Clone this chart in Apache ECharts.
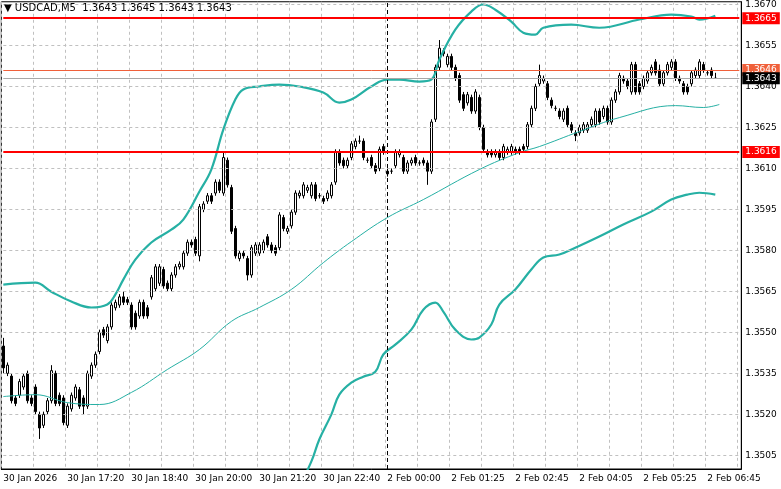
<!DOCTYPE html>
<html>
<head>
<meta charset="utf-8">
<script src="https://cdn.jsdelivr.net/npm/echarts@6/dist/echarts.min.js"></script>
<style>
  html, body { margin: 0; padding: 0; background: #fff; }
  #chart { width: 781px; height: 489px; }
</style>
</head>
<body>
<div id="chart"></div>
<script>
// USDCAD M5, 30 Jan 2026 16:00 -> 2 Feb 06:55
var symbol = 'USDCAD,M5';
var headerOHLC = ['1.3643', '1.3645', '1.3643', '1.3643'];

var opens = [
  1.3545,1.3535,1.3534,1.3526,1.3527,1.3530,1.3535,1.3526,1.3530,1.3520,
  1.3516,1.3521,1.3525,1.3535,1.3527,1.3526,1.3516,1.3522,1.3526,1.3529,
  1.3526,1.3523,1.3534,1.3538,1.3543,1.3551,1.3547,1.3552,1.3559,1.3560,
  1.3563,1.3562,1.3560,1.3557,1.3556,1.3561,1.3559,1.3563,1.3566,1.3568,
  1.3573,1.3568,1.3566,1.3571,1.3574,1.3574,1.3579,1.3583,1.3584,1.3578,
  1.3595,1.3598,1.3600,1.3601,1.3605,1.3601,1.3613,1.3603,1.3588,1.3577,
  1.3579,1.3577,1.3571,1.3579,1.3579,1.3580,1.3585,1.3582,1.3581,1.3581,
  1.3592,1.3587,1.3589,1.3594,1.3600,1.3600,1.3602,1.3600,1.3604,1.3600,
  1.3599,1.3599,1.3600,1.3605,1.3616,1.3613,1.3611,1.3614,1.3618,1.3620,
  1.3620,1.3613,1.3614,1.3611,1.3610,1.3618,1.3609,1.3609,1.3611,1.3615,
  1.3614,1.3609,1.3612,1.3614,1.3612,1.3613,1.3612,1.3609,1.3628,1.3647,
  1.3653,1.3648,1.3651,1.3647,1.3644,1.3637,1.3634,1.3636,1.3631,1.3636,
  1.3625,1.3616,1.3616,1.3615,1.3616,1.3614,1.3616,1.3616,1.3617,1.3617,
  1.3618,1.3618,1.3626,1.3632,1.3641,1.3642,1.3641,1.3635,1.3632,1.3631,
  1.3628,1.3632,1.3626,1.3623,1.3623,1.3624,1.3624,1.3626,1.3626,1.3631,
  1.3629,1.3632,1.3627,1.3635,1.3638,1.3643,1.3642,1.3638,1.3648,1.3641,
  1.3640,1.3642,1.3645,1.3649,1.3646,1.3641,1.3645,1.3647,1.3649,1.3643,
  1.3641,1.3640,1.3641,1.3644,1.3644,1.3648,1.3645,1.3646,1.3643
];
var closes = [
  1.3537,1.3538,1.3525,1.3524,1.3532,1.3534,1.3525,1.3524,1.3521,1.3515,
  1.3520,1.3525,1.3536,1.3524,1.3524,1.3517,1.3523,1.3527,1.3530,1.3523,
  1.3523,1.3535,1.3538,1.3542,1.3550,1.3549,1.3552,1.3560,1.3561,1.3563,
  1.3561,1.3561,1.3552,1.3552,1.3561,1.3556,1.3556,1.3570,1.3574,1.3574,
  1.3567,1.3566,1.3571,1.3574,1.3575,1.3579,1.3583,1.3582,1.3579,1.3596,
  1.3597,1.3600,1.3598,1.3605,1.3602,1.3614,1.3604,1.3587,1.3578,1.3579,
  1.3578,1.3571,1.3581,1.3582,1.3582,1.3583,1.3582,1.3580,1.3579,1.3593,
  1.3588,1.3588,1.3594,1.3601,1.3601,1.3604,1.3603,1.3604,1.3599,1.3600,
  1.3598,1.3601,1.3604,1.3616,1.3612,1.3611,1.3613,1.3619,1.3620,1.3620,
  1.3614,1.3613,1.3611,1.3609,1.3617,1.3616,1.3608,1.3609,1.3616,1.3616,
  1.3609,1.3612,1.3613,1.3612,1.3612,1.3612,1.3609,1.3627,1.3647,1.3654,
  1.3652,1.3651,1.3647,1.3643,1.3635,1.3632,1.3637,1.3631,1.3638,1.3625,
  1.3617,1.3615,1.3615,1.3616,1.3614,1.3618,1.3617,1.3618,1.3616,1.3616,
  1.3617,1.3626,1.3632,1.3640,1.3644,1.3643,1.3636,1.3633,1.3632,1.3629,
  1.3631,1.3626,1.3624,1.3622,1.3625,1.3626,1.3626,1.3628,1.3631,1.3627,
  1.3632,1.3627,1.3635,1.3638,1.3644,1.3642,1.3640,1.3648,1.3638,1.3638,
  1.3643,1.3645,1.3647,1.3645,1.3641,1.3645,1.3648,1.3649,1.3643,1.3642,
  1.3638,1.3638,1.3645,1.3646,1.3649,1.3646,1.3645,1.3644,1.3643
];
// wick lengths in pips above / below the body
var upperWick = [
  3,1,1,1,1,1,1,1,1,1, 1,1,2,1,1,1,1,1,1,1, 1,1,1,1,1,1,1,1,1,1,
  2,1,1,1,1,1,1,1,1,1, 1,1,1,1,1,1,1,1,1,1, 1,1,1,1,1,2,1,1,1,1,
  1,1,1,1,1,1,1,1,1,1, 1,1,1,1,1,1,1,1,1,1, 1,1,1,1,1,1,1,1,1,2,
  1,1,1,1,1,1,1,1,1,1, 1,1,1,1,1,1,1,1,1,3, 1,1,1,1,1,1,1,1,1,1,
  1,1,1,1,1,1,1,1,1,1, 1,1,1,1,4,1,1,1,1,1, 1,1,1,1,1,1,1,1,1,1,
  1,1,1,1,1,1,1,1,1,1, 1,1,1,1,2,1,1,1,1,1, 1,1,1,1,1,1,1,1,2
];
var lowerWick = [
  2,1,1,1,1,1,1,1,1,4, 1,1,1,1,1,1,1,1,1,1, 3,1,1,1,1,1,1,1,1,1,
  1,1,1,1,1,1,1,1,1,1, 1,1,1,1,1,1,1,1,1,2, 1,1,1,1,1,1,1,1,1,1,
  1,2,1,1,1,1,1,1,1,1, 1,1,1,1,1,1,1,1,1,1, 1,1,1,1,1,1,1,1,1,1,
  1,1,1,1,1,1,1,1,1,1, 1,1,1,1,1,1,5,1,1,1, 1,1,1,1,1,1,1,1,1,1,
  1,1,1,1,1,1,1,1,1,1, 1,1,1,1,1,1,1,1,1,1, 1,1,1,2,1,1,1,1,1,1,
  1,1,1,1,1,1,1,1,1,1, 1,1,1,1,1,1,1,1,1,1, 1,1,1,1,1,1,1,1,0
];

// Bollinger bands, sampled at bar index
var upperIdx = [0,8,12,17,22,26,28,30,33,37,42,45,49,52,55,58,60,64,69,74,80,84,87,92,96,99,104,107,109,113,117,120,123,127,130,133,135,142,149,159,167,172,174,178];
var upperVal = [1.35675,1.35682,1.35649,1.35613,1.35591,1.35602,1.35638,1.35693,1.35766,1.35829,1.35876,1.35913,1.36015,1.36096,1.36242,1.36352,1.36389,1.36400,1.36407,1.36400,1.36378,1.36341,1.36352,1.36400,1.36425,1.36425,1.36418,1.36425,1.36498,1.36608,1.36674,1.36700,1.36681,1.36637,1.36597,1.36590,1.36615,1.36626,1.36615,1.36645,1.36663,1.36656,1.36645,1.36659];
var midIdx = [0,8,16,24,32,41,49,57,64,72,80,87,96,105,119,129,134,144,154,168,175,179];
var midVal = [1.35265,1.35272,1.35243,1.35236,1.35280,1.35364,1.35437,1.35540,1.35591,1.35657,1.35755,1.35832,1.35920,1.35986,1.36096,1.36158,1.36180,1.36235,1.36286,1.36330,1.36323,1.36334];
var lowerIdx = [73,77,79,82,84,87,90,93,95,98,102,105,108,110,113,117,119,122,124,128,132,135,139,143,149,155,162,167,171,174,178];
var lowerVal = [1.34906,1.35027,1.35108,1.35199,1.35272,1.35316,1.35338,1.35356,1.35419,1.35455,1.35510,1.35583,1.35609,1.35576,1.35510,1.35474,1.35481,1.35529,1.35602,1.35657,1.35730,1.35774,1.35785,1.35810,1.35851,1.35895,1.35942,1.35986,1.36004,1.36011,1.36004];

var timeLabels = ['30 Jan 2026','30 Jan 17:20','30 Jan 18:40','30 Jan 20:00','30 Jan 21:20','30 Jan 22:40',
  '2 Feb 00:00','2 Feb 01:25','2 Feb 02:45','2 Feb 04:05','2 Feb 05:25','2 Feb 06:45'];
var priceTicks = [1.3505,1.3520,1.3535,1.3550,1.3565,1.3580,1.3595,1.3610,1.3625,1.3640,1.3655,1.3670];
var levels = [1.3665, 1.3616];
var bidPrice = 1.3643, askPrice = 1.3646;
var sessionBar = 96;

var slots = 185;
var cats = [];
for (var i = 0; i < slots; i++) cats.push(i);

var candles = opens.map(function (o, i) {
  var c = closes[i];
  return [o, c, +(Math.min(o, c) - lowerWick[i] / 10000).toFixed(4), +(Math.max(o, c) + upperWick[i] / 10000).toFixed(4)];
});
function pairs(idx, val) { return idx.map(function (k, j) { return [k, val[j]]; }); }

var teal = '#26b0a4';
var font = 'DejaVu Sans';

// horizontal lines drawn as coord pairs across the whole category range
function hLine(v, lineStyle, label) {
  return [
    { coord: [0, v], lineStyle: lineStyle, label: label || { show: false } },
    { coord: [slots - 1, v] }
  ];
}
function levelLabel(v, bg) {
  return { show: true, position: 'end', formatter: v.toFixed(4), backgroundColor: bg, color: '#fff',
    fontFamily: font, fontSize: 9, padding: [2, 3, 1, 3], distance: 3 };
}

var gridLines = priceTicks.map(function (p) {
  return hLine(p, { color: '#c0c0c0', type: [3, 3], width: 1 });
});

var chart = echarts.init(document.getElementById('chart'));
chart.setOption({
  animation: false,
  backgroundColor: '#fff',
  graphic: [{
    type: 'text', left: 4, top: 3, z: 100,
    style: { text: '\u25BC ' + symbol + '  ' + headerOHLC.join(' '), fontFamily: font, fontSize: 10, fill: '#000' }
  }],
  grid: { left: 1.3, right: 39.7, top: 1, bottom: 20, show: true, borderColor: '#000', borderWidth: 1 },
  xAxis: {
    type: 'category', data: cats, boundaryGap: true,
    axisLine: { lineStyle: { color: '#000' } },
    axisTick: { interval: 15, length: 4, lineStyle: { color: '#000' } },
    axisLabel: {
      interval: 15, align: 'left', color: '#000', fontFamily: font, fontSize: 9, margin: 5,
      formatter: function (v, idx) { return timeLabels[idx / 16] || ''; }
    },
    splitLine: { show: true, interval: 7, lineStyle: { color: '#c0c0c0', type: [3, 3] } }
  },
  yAxis: {
    type: 'value', position: 'right', min: 1.3500, max: 1.3671, interval: 0.0005,
    axisLine: { show: true, lineStyle: { color: '#000' } },
    axisTick: { show: false },
    splitLine: { show: false },
    axisLabel: {
      color: '#000', fontFamily: font, fontSize: 9, margin: 4,
      formatter: function (v) {
        var s = v.toFixed(4);
        return priceTicks.some(function (p) { return p.toFixed(4) === s; }) ? s : '';
      }
    }
  },
  series: [
    {
      type: 'line', data: [], z: 1,
      markLine: {
        silent: true, symbol: 'none', animation: false,
        data: gridLines.concat([
          { xAxis: sessionBar, lineStyle: { color: '#000', type: [4, 3], width: 1 }, label: { show: false } }
        ])
      }
    },
    {
      type: 'candlestick', data: candles, barWidth: 3, z: 3,
      itemStyle: { color: '#fff', color0: '#000', borderColor: '#000', borderColor0: '#000', borderWidth: 1 }
    },
    { type: 'line', data: pairs(upperIdx, upperVal), smooth: 0.4, symbol: 'none', z: 4, lineStyle: { color: teal, width: 2.2 } },
    { type: 'line', data: pairs(midIdx, midVal), smooth: 0.4, symbol: 'none', z: 4, lineStyle: { color: teal, width: 1 } },
    { type: 'line', data: pairs(lowerIdx, lowerVal), smooth: 0.4, symbol: 'none', z: 4, lineStyle: { color: teal, width: 2.2 } },
    {
      type: 'line', data: [], z: 5,
      markLine: {
        silent: true, symbol: 'none', animation: false,
        data: [
          hLine(askPrice, { color: '#f0603a', type: 'solid', width: 1 }, levelLabel(askPrice, '#f0603a')),
          hLine(bidPrice, { color: '#a8a8a8', type: 'solid', width: 1 }, levelLabel(bidPrice, '#000')),
          hLine(levels[0], { color: '#ff0000', type: 'solid', width: 2 }, levelLabel(levels[0], '#ff0000')),
          hLine(levels[1], { color: '#ff0000', type: 'solid', width: 2 }, levelLabel(levels[1], '#ff0000'))
        ]
      }
    }
  ]
});
</script>
</body>
</html>
